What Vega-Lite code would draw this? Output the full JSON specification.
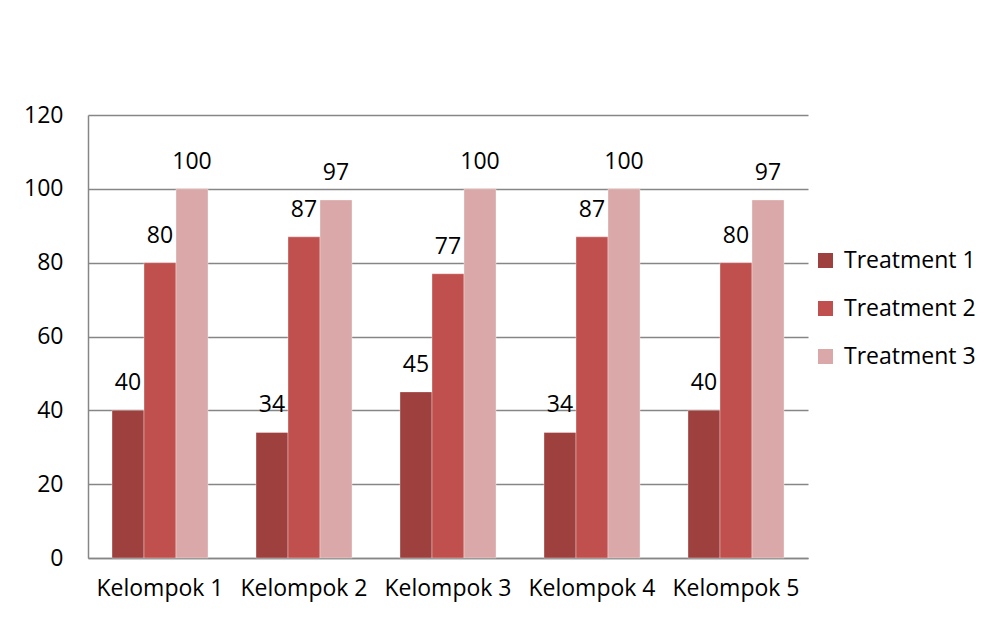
{
  "$schema": "https://vega.github.io/schema/vega-lite/v6.json",
  "width": 720,
  "height": 443,
  "autosize": {"type": "none"},
  "padding": {"left": 88, "top": 115, "right": 189, "bottom": 61},
  "background": "#ffffff",
  "config": {
    "font": "Open Sans",
    "view": {"stroke": null},
    "axis": {"labelFont": "Open Sans", "labelColor": "#000000", "labelFontSize": 23}
  },
  "data": {
    "values": [
      {"group": "Kelompok 1", "treatment": "Treatment 1", "value": 40},
      {"group": "Kelompok 1", "treatment": "Treatment 2", "value": 80},
      {"group": "Kelompok 1", "treatment": "Treatment 3", "value": 100},
      {"group": "Kelompok 2", "treatment": "Treatment 1", "value": 34},
      {"group": "Kelompok 2", "treatment": "Treatment 2", "value": 87},
      {"group": "Kelompok 2", "treatment": "Treatment 3", "value": 97},
      {"group": "Kelompok 3", "treatment": "Treatment 1", "value": 45},
      {"group": "Kelompok 3", "treatment": "Treatment 2", "value": 77},
      {"group": "Kelompok 3", "treatment": "Treatment 3", "value": 100},
      {"group": "Kelompok 4", "treatment": "Treatment 1", "value": 34},
      {"group": "Kelompok 4", "treatment": "Treatment 2", "value": 87},
      {"group": "Kelompok 4", "treatment": "Treatment 3", "value": 100},
      {"group": "Kelompok 5", "treatment": "Treatment 1", "value": 40},
      {"group": "Kelompok 5", "treatment": "Treatment 2", "value": 80},
      {"group": "Kelompok 5", "treatment": "Treatment 3", "value": 97}
    ]
  },
  "encoding": {
    "x": {
      "field": "group",
      "type": "nominal",
      "scale": {"paddingInner": 0.3333, "paddingOuter": 0.1667},
      "axis": {
        "title": null,
        "labelAngle": 0,
        "ticks": false,
        "domainColor": "#868686",
        "domainWidth": 1.5,
        "labelPadding": 19,
        "labelFontSize": 23
      }
    },
    "xOffset": {
      "field": "treatment",
      "type": "nominal",
      "scale": {"paddingInner": 0, "paddingOuter": 0}
    },
    "y": {
      "field": "value",
      "type": "quantitative",
      "scale": {"domain": [0, 120]},
      "axis": {
        "title": null,
        "values": [0, 20, 40, 60, 80, 100, 120],
        "ticks": false,
        "grid": true,
        "gridColor": "#868686",
        "gridWidth": 1.5,
        "domainColor": "#868686",
        "domainWidth": 1.5,
        "labelPadding": 25,
        "labelFontSize": 23
      }
    }
  },
  "layer": [
    {
      "mark": {"type": "bar", "stroke": "#ffffff", "strokeOpacity": 0.35, "strokeWidth": 1},
      "encoding": {
        "color": {
          "field": "treatment",
          "type": "nominal",
          "scale": {"domain": ["Treatment 1", "Treatment 2", "Treatment 3"], "range": ["#9D403E", "#C0504D", "#DAA8A8"]},
          "legend": {
            "title": null,
            "orient": "none",
            "legendX": 726,
            "legendY": 134,
            "padding": 0,
            "symbolType": "square",
            "symbolSize": 225,
            "symbolStrokeWidth": 0,
            "labelFontSize": 23,
            "labelFont": "Open Sans",
            "labelColor": "#000000",
            "labelOffset": 7,
            "rowPadding": 24
          }
        }
      }
    },
    {
      "mark": {"type": "text", "baseline": "alphabetic", "dy": -20, "fontSize": 23, "font": "Open Sans", "color": "#000000"},
      "encoding": {"text": {"field": "value", "type": "quantitative"}}
    }
  ]
}
